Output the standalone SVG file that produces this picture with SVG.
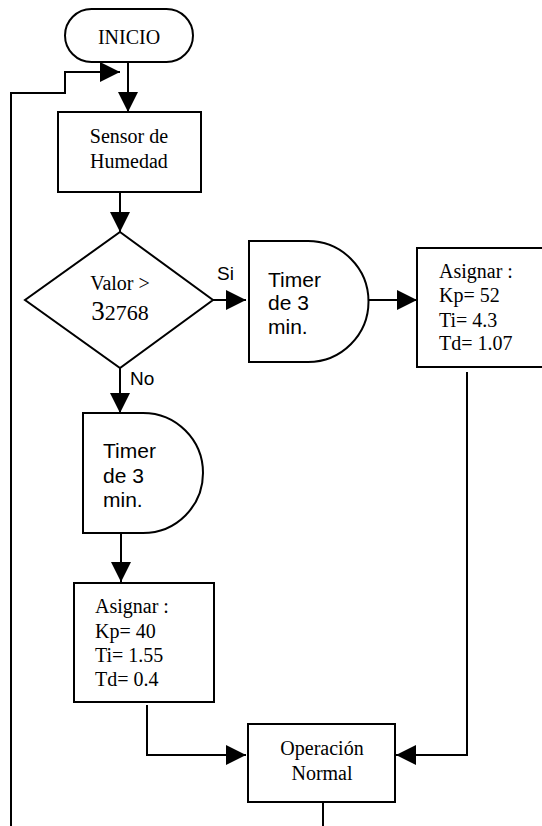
<svg xmlns="http://www.w3.org/2000/svg" width="542" height="826" viewBox="0 0 542 826">
<style>
.shape{fill:#fff;stroke:#000;stroke-width:2}
.conn{fill:none;stroke:#000;stroke-width:2}
.serif{font-family:"Liberation Serif","Times New Roman",serif;font-size:20px;fill:#000}
.sans{font-family:"Liberation Sans",Arial,sans-serif;font-size:21px;fill:#000}
.lbl{font-family:"Liberation Sans",Arial,sans-serif;font-size:19px;fill:#000}
</style>
<defs>
<marker id="arr" markerUnits="userSpaceOnUse" markerWidth="20" markerHeight="20" refX="20" refY="10" orient="auto">
<path d="M0,0 L20,10 L0,20 z" fill="#000"/>
</marker>
</defs>
<rect width="542" height="826" fill="#fff"/>
<g id="connectors">
<path class="conn" d="M128,62 V112" marker-end="url(#arr)"/>
<path class="conn" d="M11,826 V93 H65 V72 H120" marker-end="url(#arr)"/>
<path class="conn" d="M120,192 V232" marker-end="url(#arr)"/>
<path class="conn" d="M213,300 H246" marker-end="url(#arr)"/>
<path class="conn" d="M368,300 H417" marker-end="url(#arr)"/>
<path class="conn" d="M120,368 V413" marker-end="url(#arr)"/>
<path class="conn" d="M121,533 V582" marker-end="url(#arr)"/>
<path class="conn" d="M147,705 V755 H246" marker-end="url(#arr)"/>
<path class="conn" d="M467,372 V755 H396" marker-end="url(#arr)"/>
<path class="conn" d="M323,802 V826"/>
<text class="lbl" x="217" y="280">Si</text>
<text class="lbl" x="130" y="385">No</text>
</g>
<g id="inicio">
<rect class="shape" x="65" y="9" width="128" height="53" rx="26.5"/>
<text class="serif" x="129" y="44" text-anchor="middle">INICIO</text>
</g>
<g id="sensor">
<rect class="shape" x="58" y="112" width="143" height="80"/>
<text class="serif" x="129" y="143" text-anchor="middle">Sensor de</text>
<text class="serif" x="129" y="168" text-anchor="middle">Humedad</text>
</g>
<g id="decision">
<polygon class="shape" points="120,232 213,300 120,368 25,300"/>
<text class="serif" x="120" y="290" text-anchor="middle">Valor &gt;</text>
<text class="serif" x="120" y="320" text-anchor="middle"><tspan font-size="27">3</tspan><tspan font-size="22">2768</tspan></text>
</g>
<g id="timer1">
<path class="shape" d="M249,241 H308 A60.5,60.5 0 0 1 308,362 H249 Z"/>
<text class="sans" x="268" y="287">Timer</text>
<text class="sans" x="268" y="310">de 3</text>
<text class="sans" x="268" y="334">min.</text>
</g>
<g id="asignar1">
<rect class="shape" x="417" y="248" width="130" height="119"/>
<text class="serif" x="439" y="278">Asignar :</text>
<text class="serif" x="439" y="302">Kp= 52</text>
<text class="serif" x="439" y="327">Ti= 4.3</text>
<text class="serif" x="439" y="350">Td= 1.07</text>
</g>
<g id="timer2">
<path class="shape" d="M83,413 H143 A60,60 0 0 1 143,533 H83 Z"/>
<text class="sans" x="103" y="458">Timer</text>
<text class="sans" x="103" y="483">de 3</text>
<text class="sans" x="103" y="507">min.</text>
</g>
<g id="asignar2">
<rect class="shape" x="74" y="583" width="140" height="119"/>
<text class="serif" x="95" y="613">Asignar :</text>
<text class="serif" x="95" y="638">Kp= 40</text>
<text class="serif" x="95" y="662">Ti= 1.55</text>
<text class="serif" x="95" y="686">Td= 0.4</text>
</g>
<g id="operacion">
<rect class="shape" x="248" y="724" width="147" height="78"/>
<text class="serif" x="322" y="755" text-anchor="middle">Operación</text>
<text class="serif" x="322" y="780" text-anchor="middle">Normal</text>
</g>
</svg>
